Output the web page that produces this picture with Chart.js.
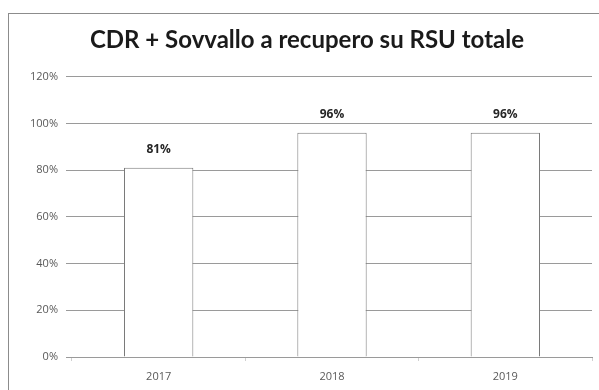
<!DOCTYPE html>
<html>
<head>
<meta charset="utf-8">
<script src="https://cdn.jsdelivr.net/npm/chart.js@4.4.1/dist/chart.umd.min.js"></script>
<style>
  html, body { margin: 0; padding: 0; background: #fff; }
  #wrap { position: relative; width: 599px; height: 390px; overflow: hidden; }
  #cornice { position: absolute; left: 8px; top: 13px; width: 640px; height: 420px; border: 1px solid #8c8c8c; }
  #grafico { position: absolute; left: 0; top: 0; }
</style>
</head>
<body>
<div id="wrap">
  <div id="cornice"></div>
  <canvas id="grafico" width="599" height="390"></canvas>
</div>
<script>
// anni e percentuale di CDR + sovvallo avviato a recupero
const anni = ['2017', '2018', '2019']
const recupero = [81, 96, 96]
const tickY = [0, 20, 40, 60, 80, 100, 120]

// etichette con il valore sopra ogni barra
const etichetteValore = {
    id: 'etichetteValore',
    afterDatasetsDraw(chart) {
        const ctx = chart.ctx
        const meta = chart.getDatasetMeta(0)
        ctx.save()
        ctx.font = 'bold 12px "Open Sans", sans-serif'
        ctx.fillStyle = '#262626'
        ctx.textAlign = 'center'
        ctx.textBaseline = 'bottom'
        meta.data.forEach((barra, i) => {
            ctx.fillText(recupero[i] + '%', barra.x, barra.y - 12)
        })
        ctx.restore()
    }
}

new Chart(document.getElementById('grafico'), {
    type: 'bar',
    data: {
        labels: anni,
        datasets: [{
            data: recupero,
            backgroundColor: '#ffffff',
            borderColor: '#7a7a7a',
            borderWidth: 1,
            barPercentage: 0.8,
            categoryPercentage: 0.5
        }]
    },
    options: {
        responsive: false,
        animation: false,
        layout: { padding: { left: 22, right: 7, top: 0, bottom: 0 } },
        plugins: {
            legend: { display: false },
            tooltip: { enabled: false },
            title: {
                display: true,
                text: 'CDR + Sovvallo a recupero su RSU totale',
                color: '#1a1a1a',
                font: { family: 'Lato', size: 24, weight: 'bold', lineHeight: 1.2 },
                padding: { top: 26, bottom: 22 }
            }
        },
        scales: {
            x: {
                afterFit(scale) { scale.height = 33 },
                grid: { drawOnChartArea: false, drawTicks: true, tickLength: 4, color: '#d0d0d0' },
                border: { display: true, color: '#9a9a9a' },
                ticks: { color: '#595959', font: { family: 'Open Sans', size: 11 }, padding: 9 }
            },
            y: {
                min: 0,
                max: 120,
                afterFit(scale) { scale.width = 50 },
                afterBuildTicks(scale) { scale.ticks = tickY.map(v => ({ value: v })) },
                grid: { color: '#9a9a9a', drawTicks: true, tickLength: 6 },
                border: { display: false },
                ticks: {
                    color: '#595959',
                    font: { family: 'Open Sans', size: 11 },
                    padding: 8,
                    callback: v => v + '%'
                }
            }
        }
    },
    plugins: [etichetteValore]
})
</script>
</body>
</html>
